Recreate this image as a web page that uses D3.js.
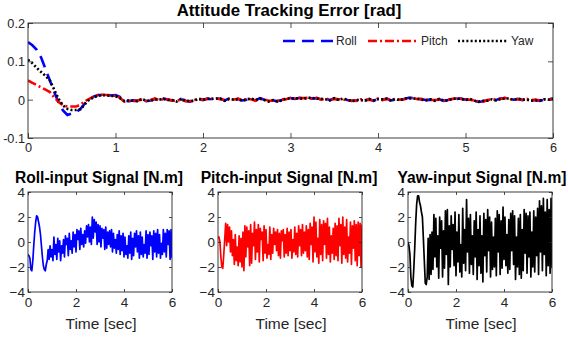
<!DOCTYPE html>
<html><head><meta charset="utf-8">
<script src="https://cdn.jsdelivr.net/npm/d3@7"></script>
<style>
body{margin:0;background:#fff;}
svg{display:block;font-family:"Liberation Sans",Arial,Helvetica,sans-serif;}
</style></head>
<body><svg id="c" width="568" height="339"></svg>
<script>
// ---------------- DATA ----------------
const errTimeEnd = 6;
const rollErr = [0.150,0.142,0.130,0.110,0.080,0.050,0.020,-0.008,-0.028,-0.040,-0.036,-0.033,-0.024,-0.010,0.000,0.008,0.012,0.012,0.013,0.011,0.012,0.007,-0.003,-0.004,-0.002,
-0.003,0.001,-0.004,-0.002,0.002,-0.001,0.003,0.000,-0.002,-0.004,0.001,-0.003,-0.005,-0.002,0.002,-0.001,0.003,0.001,0.004,0.002,-0.002,0.003,-0.001,0.002,-0.002,0.000,0.002,-0.002,0.004,0.000,-0.004,-0.002,-0.004,-0.001,0.002,0.004,0.002,0.005,0.003,0.006,0.003,0.004,0.001,0.002,-0.001,0.003,0.000,0.002,-0.001,-0.003,-0.002,0.000,-0.002,0.001,-0.003,0.002,0.000,0.003,-0.002,0.001,-0.001,0.002,0.005,0.004,0.002,0.001,-0.001,0.000,-0.002,0.001,-0.003,-0.001,0.003,0.002,0.003,0.000,0.001,-0.003,-0.006,-0.004,-0.002,0.000,-0.001,0.003,0.004,0.002,0.000,0.002,-0.001,0.001,-0.002,-0.001,-0.003,0.000,0.001,0.003];
const pitchErr = [0.050,0.044,0.038,0.032,0.026,0.020,0.006,-0.006,-0.015,-0.018,-0.018,-0.018,-0.013,-0.004,0.002,0.008,0.012,0.013,0.012,0.011,0.010,0.005,-0.005,-0.003,-0.004,
-0.002,0.000,-0.003,-0.001,0.003,-0.002,0.002,0.001,-0.003,-0.003,0.000,-0.004,-0.004,-0.001,0.001,0.000,0.002,0.002,0.003,0.001,-0.001,0.002,0.000,0.003,-0.001,0.001,0.001,-0.003,0.003,0.001,-0.003,-0.003,-0.003,0.000,0.001,0.005,0.003,0.004,0.004,0.005,0.002,0.005,0.000,0.003,0.000,0.002,0.001,0.001,-0.002,-0.002,-0.003,0.001,-0.001,0.000,-0.002,0.003,-0.001,0.002,-0.001,0.002,0.000,0.001,0.004,0.005,0.001,0.002,0.000,-0.001,-0.001,0.000,-0.002,0.000,0.002,0.003,0.002,0.001,0.000,-0.002,-0.005,-0.005,-0.001,0.001,0.000,0.002,0.005,0.001,0.001,0.001,0.000,0.002,-0.001,0.000,-0.002,0.001,0.000,0.002];
const yawErr = [0.104,0.095,0.083,0.072,0.062,0.050,0.026,0.002,-0.015,-0.024,-0.027,-0.027,-0.025,-0.012,0.000,0.006,0.010,0.012,0.011,0.010,0.009,0.004,-0.003,-0.002,-0.003,
-0.004,0.002,-0.003,-0.003,0.001,0.000,0.002,-0.001,-0.001,-0.005,0.002,-0.002,-0.004,-0.003,0.003,0.000,0.002,0.002,0.003,0.003,-0.003,0.002,0.000,0.001,-0.003,0.001,0.003,-0.001,0.003,-0.001,-0.005,-0.001,-0.005,-0.002,0.003,0.003,0.003,0.004,0.002,0.005,0.004,0.003,0.002,0.001,-0.002,0.004,-0.001,0.003,0.000,-0.004,-0.001,-0.001,-0.003,0.002,-0.002,0.001,0.001,0.002,-0.003,0.002,-0.002,0.003,0.004,0.003,0.003,0.000,-0.002,0.001,-0.003,0.002,-0.002,-0.002,0.002,0.003,0.002,-0.001,0.002,-0.002,-0.005,-0.003,-0.003,0.001,-0.002,0.002,0.003,0.003,-0.001,0.003,0.000,0.000,-0.003,-0.002,-0.002,0.001,0.000,0.002];

const inputTimeEnd = 6;
const rollInput = [-1.0,-1.1,-1.3,-2.2,-2.3,-1.5,-0.3,0.8,1.6,2.1,2.0,1.6,1.2,0.6,-0.3,-1.2,-1.9,-2.2,-2.3,-1.8,-1.5,-0.6,
-1.4,-0.3,-1.2,-0.6,-1.5,0.4,-1.0,-0.2,-1.4,0.3,-0.8,0.1,-1.5,-0.3,-0.9,0.2,-1.2,0.5,-0.2,0.3,-1.1,0.7,-0.6,0.1,-0.9,0.8,-0.4,0.6,
-0.8,1.0,0.2,0.9,-0.6,1.1,-0.2,0.6,-0.4,0.9,-0.1,1.3,0.4,1.4,0.0,1.2,-0.2,2.0,0.3,1.8,0.8,1.6,-0.2,1.4,0.0,
1.3,-0.4,1.1,0.3,1.0,-0.6,1.2,-0.5,0.8,-0.2,0.9,-0.4,1.0,-0.8,0.7,-0.5,0.2,-0.9,0.6,-0.6,0.9,-1.0,0.5,-0.7,0.7,
-1.2,0.4,-1.0,-0.3,-1.3,0.5,-0.9,0.8,-1.4,0.3,-1.1,0.7,-0.4,0.9,-0.8,0.5,-1.3,0.8,-1.0,0.4,-1.2,-0.2,-0.9,0.9,-1.3,
0.6,-1.0,0.8,-0.3,0.5,-1.4,0.9,-0.8,0.7,-1.2,1.0,-0.9,0.6,-1.3,-0.1,-1.0,1.0,-0.8,0.7,-1.2,1.0,-0.2,0.9,-1.4,1.0,-1.3];
const pitchInput = [0.3,0.4,0.0,-1.2,-2.0,-2.1,-1.0,0.2,1.5,-0.3,1.4,0.0,1.2,-0.8,0.9,-1.1,0.2,-1.8,0.6,-1.5,-0.4,-1.9,0.5,-1.6,0.3,
-2.0,0.8,-2.3,1.3,-1.2,1.2,-0.4,0.9,-1.9,1.4,-1.7,0.7,-0.3,1.6,-1.4,1.0,-0.8,1.4,-1.6,1.1,0.2,0.8,-1.5,1.3,-0.9,
1.0,-1.3,-0.2,-1.0,1.2,-1.4,0.6,-0.9,1.1,-0.2,0.8,-0.7,1.0,-1.1,0.7,-1.3,0.9,0.1,1.0,-1.2,0.6,-0.9,1.1,-1.1,0.8,
-0.7,1.0,-1.3,0.2,-0.8,1.2,-1.0,0.7,-1.2,1.3,-0.3,1.0,-1.1,1.4,-0.9,0.8,-0.7,1.3,-1.2,1.0,-1.4,1.5,-0.2,1.2,-1.6,
2.0,-0.8,1.6,-1.2,0.3,-1.7,1.8,-1.0,1.4,-1.5,1.7,-0.2,1.5,-1.3,1.9,-1.0,1.2,-1.6,0.5,-0.9,1.1,-1.4,1.5,-1.1,1.3,
-1.5,1.9,-0.3,1.4,-1.7,2.0,-1.0,1.2,-1.3,1.8,-1.6,0.4,-0.9,1.6,-1.8,1.3,-0.5,1.7,-1.5,1.4,-1.9,1.6,-1.1,1.5,-2.0,1.4];
const yawInput = [0.0,-0.3,-1.0,-2.8,-3.5,-3.6,-2.2,-0.5,1.5,3.0,3.7,3.7,3.2,2.9,2.4,2.0,0.3,-1.5,-3.3,-3.4,-2.8,
0.3,-3.0,0.6,-2.6,0.8,-2.2,2.2,-1.2,1.9,-2.0,0.5,-2.9,2.0,-0.5,1.7,-2.8,0.9,-2.1,2.5,-1.0,2.6,-3.4,1.3,-2.0,2.1,-0.6,1.4,-1.9,2.4,
-2.7,0.8,-1.6,2.2,-2.4,-0.2,-2.8,2.7,-1.7,1.0,-2.3,3.4,-0.8,1.9,-2.5,2.2,-1.8,0.5,-2.6,1.7,-1.2,2.4,-3.0,1.0,-1.9,
2.1,-2.5,0.5,-3.2,2.3,-1.1,1.8,-2.4,2.6,-0.7,2.0,-2.8,1.6,-2.2,0.4,-2.0,1.9,-2.7,2.5,-0.8,2.2,-2.6,1.7,-2.1,2.8,
-1.4,2.0,-1.9,0.6,-2.5,1.8,-2.2,2.3,-0.7,2.5,-1.8,2.1,-3.0,0.4,-2.0,1.9,-2.6,2.2,-2.9,1.0,-2.3,2.6,-0.9,2.3,-2.5,
2.1,-1.2,2.4,-2.8,0.8,-2.0,2.5,-2.4,2.0,-1.1,2.7,-2.6,3.3,-0.8,2.9,-2.3,3.5,-1.0,2.4,-2.7,3.4,-1.9,2.6,-2.5,3.5,-2.1];

const errXTicks = [0,1,2,3,4,5,6];
const errYTicks = [-0.1,0,0.1,0.2];
const errYTickLabels = ["-0.1","0","0.1","0.2"];
const inXTicks = [0,2,4,6];
const inYTicks = [-4,-2,0,2,4];
const legendNames = ["Roll","Pitch","Yaw"];
const titles = {top:"Attitude Tracking Error [rad]", roll:"Roll-input Signal [N.m]", pitch:"Pitch-input Signal [N.m]", yaw:"Yaw-input Signal [N.m]"};
const xLabel = "Time [sec]";

// ---------------- DRAW ----------------
const svg = d3.select("#c");
const axisCol = "#262626";
let clipId = 0;

function panel(box, xDom, yDom, xTicks, yTicks, yFmt, tickLen, fontSize){
  const x = d3.scaleLinear().domain(xDom).range([box.x0, box.x1]);
  const y = d3.scaleLinear().domain(yDom).range([box.y1, box.y0]);
  const id = "clip" + (clipId++);
  svg.append("clipPath").attr("id", id).append("rect")
    .attr("x", box.x0).attr("y", box.y0).attr("width", box.x1-box.x0).attr("height", box.y1-box.y0);
  const plot = svg.append("g").attr("clip-path", `url(#${id})`);
  const frame = svg.append("g");
  const ax = frame.append("g").attr("transform", `translate(0,${box.y1})`)
    .call(d3.axisBottom(x).tickValues(xTicks).tickSizeInner(-tickLen).tickSizeOuter(0).tickPadding(5).tickFormat(d3.format("d")));
  const axT = frame.append("g").attr("transform", `translate(0,${box.y0})`)
    .call(d3.axisTop(x).tickValues(xTicks).tickSizeInner(-tickLen).tickSizeOuter(0).tickFormat(""));
  const ay = frame.append("g").attr("transform", `translate(${box.x0},0)`)
    .call(d3.axisLeft(y).tickValues(yTicks).tickSizeInner(-tickLen).tickSizeOuter(0).tickPadding(3).tickFormat(yFmt));
  const ayR = frame.append("g").attr("transform", `translate(${box.x1},0)`)
    .call(d3.axisRight(y).tickValues(yTicks).tickSizeInner(-tickLen).tickSizeOuter(0).tickFormat(""));
  [ax,axT,ay,ayR].forEach(a=>{
    a.select(".domain").remove();
    a.selectAll("line").attr("stroke", axisCol).attr("stroke-width", 0.8);
    a.selectAll("text").attr("fill", axisCol).attr("font-size", fontSize)
      .attr("font-family", '"Liberation Sans",Arial,Helvetica,sans-serif');
  });
  ay.selectAll("text").attr("dy","0.35em");
  frame.append("rect").attr("x", box.x0).attr("y", box.y0)
    .attr("width", box.x1-box.x0).attr("height", box.y1-box.y0)
    .attr("fill","none").attr("stroke", axisCol).attr("stroke-width", 0.9);
  return {x, y, plot, frame};
}

// top panel
const topP = panel({x0:28,x1:553,y0:23,y1:138}, [0,6], [-0.1,0.2], errXTicks, errYTicks,
  (d)=>errYTickLabels[errYTicks.indexOf(d)], 5, 12.7);
const errSeries = [
  {name:legendNames[0], vals:rollErr, color:"#0000ff", dash:"12,7"},
  {name:legendNames[1], vals:pitchErr, color:"#ff0000", dash:"9,3,2,3"},
  {name:legendNames[2], vals:yawErr, color:"#000000", dash:"2,2.2"}
];
errSeries.forEach(s=>{
  const n = s.vals.length;
  const line = d3.line().x((d,i)=>topP.x(i*errTimeEnd/(n-1))).y(d=>topP.y(d));
  topP.plot.append("path").datum(s.vals).attr("d", line)
    .attr("fill","none").attr("stroke", s.color).attr("stroke-width", 2.6)
    .attr("stroke-dasharray", s.dash);
});
svg.append("text").attr("x", 289).attr("y", 16).attr("text-anchor","middle")
  .attr("font-weight","bold").attr("font-size", 16.8).attr("fill","#000").text(titles.top);
const legX = [283, 368, 458];
errSeries.forEach((s,i)=>{
  const lg = svg.append("g");
  lg.append("line").attr("x1", legX[i]).attr("x2", legX[i]+50).attr("y1", 41).attr("y2", 41)
    .attr("stroke", s.color).attr("stroke-width", 2.6).attr("stroke-dasharray", s.dash);
  lg.append("text").attr("x", legX[i]+53).attr("y", 41).attr("dy","0.35em")
    .attr("font-size", 12).attr("fill", axisCol).text(s.name);
});

const bottomDefs = [
  {box:{x0:28,x1:172,y0:192,y1:292}, vals:rollInput, color:"#0000ff", title:titles.roll, tcx:99},
  {box:{x0:218,x1:362,y0:192,y1:292}, vals:pitchInput, color:"#ff0000", title:titles.pitch, tcx:289},
  {box:{x0:408,x1:552,y0:192,y1:292}, vals:yawInput, color:"#000000", title:titles.yaw, tcx:482}
];
bottomDefs.forEach(b=>{
  const p = panel(b.box, [0,6], [-4,4], inXTicks, inYTicks, d3.format("d"), 3, 13.5);
  const n = b.vals.length;
  const line = d3.line().x((d,i)=>p.x(i*inputTimeEnd/(n-1))).y(d=>p.y(d));
  p.plot.append("path").datum(b.vals).attr("d", line)
    .attr("fill","none").attr("stroke", b.color).attr("stroke-width", 1.7).attr("stroke-linejoin","round");
  const cx = (b.box.x0+b.box.x1)/2;
  svg.append("text").attr("x", b.tcx).attr("y", 183).attr("text-anchor","middle")
    .attr("font-weight","bold").attr("font-size", 15.6).attr("fill","#000").text(b.title);
  svg.append("text").attr("x", cx+1).attr("y", 329).attr("text-anchor","middle")
    .attr("font-size", 15.5).attr("fill", axisCol).text(xLabel);
});
</script></body></html>
